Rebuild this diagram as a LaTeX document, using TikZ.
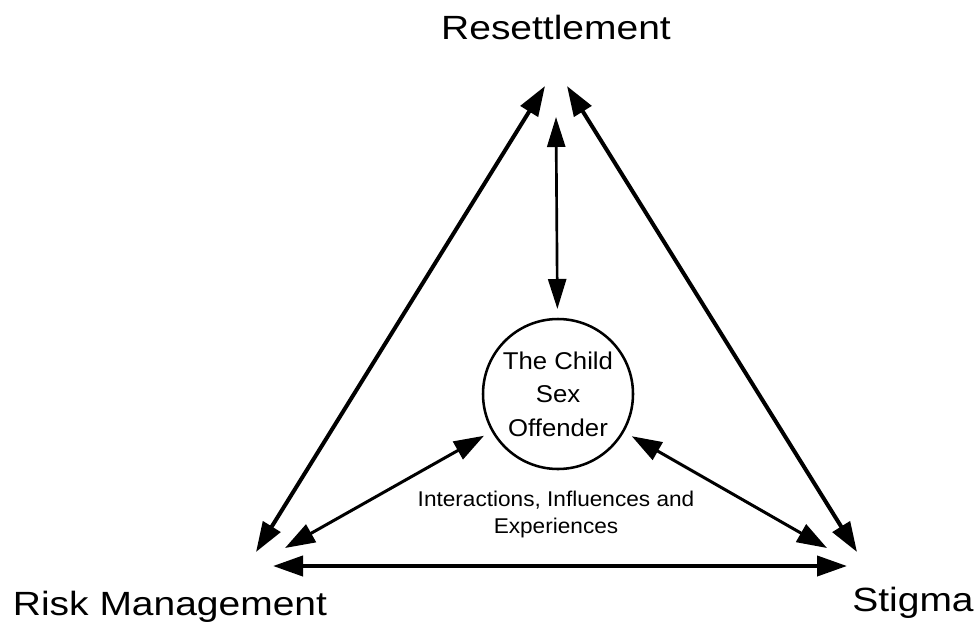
\documentclass[tikz,border=0pt]{standalone}
\usepackage{fontspec}
\setmainfont{Liberation Sans}
\newfontfamily\bigfont[FakeStretch=1.16]{Liberation Sans}
\newfontfamily\smallfont[FakeStretch=1.06]{Liberation Sans}
\usetikzlibrary{arrows.meta}
\begin{document}
\begin{tikzpicture}[x=0.75pt,y=-0.75pt,
  corner/.style={font=\bigfont\fontsize{25.2pt}{30pt}\selectfont, anchor=base, inner sep=0pt},
  hub/.style={circle, draw, line width=1.9pt, minimum size=112.5pt, inner sep=0pt,
    outer sep=7.5pt, align=center, font=\smallfont\fontsize{18.2pt}{25.1pt}\selectfont},
  note/.style={align=center, font=\smallfont\fontsize{16pt}{19.9pt}\selectfont, anchor=base, inner sep=0pt},
  bigarrow/.style={{Triangle[length=22.5pt,width=15pt]}-{Triangle[length=22.5pt,width=15pt]}, line width=3pt},
  midarrow/.style={{Triangle[length=22.5pt,width=15pt]}-{Triangle[length=22.5pt,width=15pt]}, line width=2.25pt},
  vertarrow/.style={{Triangle[length=22.5pt,width=13.5pt]}-{Triangle[length=22.5pt,width=13.5pt]}, line width=2pt}
]
\useasboundingbox (0,0) rectangle (977,625);

% labels at the three corners
\node[corner] (res) at (556,39) {Resettlement};
\node[corner] (risk) at (170,615) {Risk Management};
\node[corner] (stig) at (913,611) {Stigma};

% the central figure
\node[hub] (core) at (558,394) {The Child\\Sex\\Offender};

% caption under the circle; the base anchor sits on its last line
\node[note] (inter) at (556,533) {Interactions, Influences and\\Experiences};

% arrow ends near each corner label
\coordinate (resL) at (545,86);
\coordinate (resR) at (567,86);
\coordinate (resV) at (556,117);
\coordinate (riskA) at (256,552);
\coordinate (riskB) at (285,548);
\coordinate (riskC) at (273,566);
\coordinate (stigA) at (857,552);
\coordinate (stigB) at (827,548);
\coordinate (stigC) at (847,566);

% triangle sides
\draw[bigarrow] (resL) -- (riskA);
\draw[bigarrow] (resR) -- (stigA);
\draw[bigarrow] (riskC) -- (stigC);

% links to the centre
\draw[vertarrow] (resV) -- (core);
\draw[midarrow] (riskB) -- (core);
\draw[midarrow] (stigB) -- (core);
\end{tikzpicture}
\end{document}
